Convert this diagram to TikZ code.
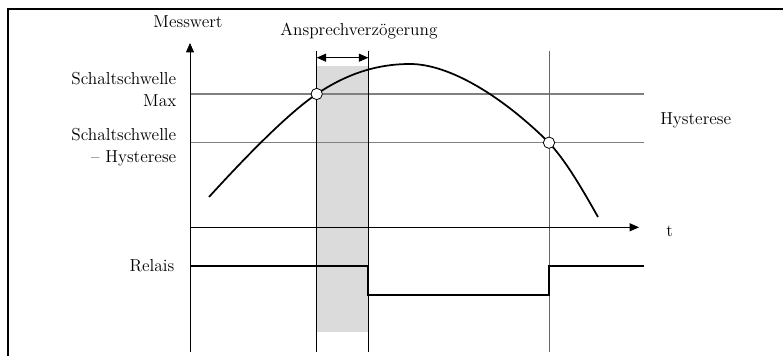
\documentclass[tikz,border=0pt]{standalone}
\usetikzlibrary{arrows.meta}
\begin{document}
\begin{tikzpicture}[x=0.75pt,y=-0.75pt,
  lbl/.style={font=\fontsize{13}{15}\selectfont, inner sep=0pt},
  thin line/.style={line width=0.6pt, black},
  thresh/.style={line width=1.1pt, black!50},
  bold line/.style={line width=1.3pt, black},
  tip/.style={-{Triangle[length=7pt,width=6pt]}},
  mark circ/.style={circle, draw=black, fill=white, line width=0.6pt, minimum size=8.5pt, inner sep=0pt}]
\useasboundingbox (0,0) rectangle (783,356);
% frame
\draw[line width=1.5pt] (8,356) -- (8,9) -- (783,9);
% gray box
\fill[black!14] (316.7,66) rectangle (368.3,331.7);
% coordinates
\coordinate (yb) at (190,352);
\coordinate (yt) at (190,43);
\coordinate (tl) at (190,227.3);
\coordinate (tr) at (639,227.3);
\coordinate (mL) at (190,94);
\coordinate (mR) at (644,94);
\coordinate (hL) at (190,142.7);
\coordinate (hR) at (644,142.7);
\coordinate (v1t) at (316.7,50.7);
\coordinate (v1b) at (316.7,352);
\coordinate (v2t) at (368.3,50.7);
\coordinate (v2b) at (368.3,352);
\coordinate (v3t) at (549,50.7);
\coordinate (v3b) at (549,352);
\coordinate (a1) at (316.7,57.7);
\coordinate (a2) at (368.3,57.7);
% threshold lines
\draw[thresh] (mL) -- (mR);
\draw[thresh] (hL) -- (hR);
% verticals
\draw[thin line] (v1t) -- (v1b);
\draw[thin line] (v2t) -- (v2b);
\draw[line width=0.7pt, black!60] (v3t) -- (v3b);
% axes
\draw[thin line, tip] (yb) -- (yt);
\draw[thin line, tip] (tl) -- (tr);
% delay arrow
\draw[thin line, {Triangle[length=7pt,width=6pt]}-{Triangle[length=7pt,width=6pt]}] (a1) -- (a2);
% curve
\coordinate (cs) at (209,197);
\coordinate (cp) at (410,64);
\coordinate (ce) at (598,217);
\draw[line width=1.3pt] (cs) .. controls (250,152) and (290,112) .. (316.7,94)
  .. controls (345,75) and (375,64) .. (cp)
  .. controls (450,64) and (503,97) .. (549,142.7)
  .. controls (565,160) and (580,185) .. (ce);
% relay
\coordinate (r0) at (190,265.7);
\coordinate (r1) at (368.3,265.7);
\coordinate (r2) at (368.3,295);
\coordinate (r3) at (549,295);
\coordinate (r4) at (549,265.7);
\coordinate (r5) at (644,265.7);
\draw[bold line] (r0) -- (r1) -- (r2) -- (r3) -- (r4) -- (r5);
% markers
\node[mark circ] (c1) at (316.7,94) {};
\node[mark circ] (c2) at (549,142.7) {};
% labels
\node[lbl] (messwert) at (188,22) {Messwert};
\node[lbl] (ansp) at (359,31) {Ansprechverzögerung};
\node[lbl, anchor=east] (ss1) at (176.5,79) {Schaltschwelle};
\node[lbl, anchor=east] (max) at (176.5,101) {Max};
\node[lbl, anchor=east] (ss2) at (176.5,135) {Schaltschwelle};
\node[lbl, anchor=east] (hy) at (176.5,158) {-- Hysterese};
\node[lbl, anchor=east] (relais) at (174.5,265.7) {Relais};
\node[lbl, anchor=west] (hys) at (660,120) {Hysterese};
\node[lbl, anchor=west] (t) at (666,231) {t};
\end{tikzpicture}
\end{document}
